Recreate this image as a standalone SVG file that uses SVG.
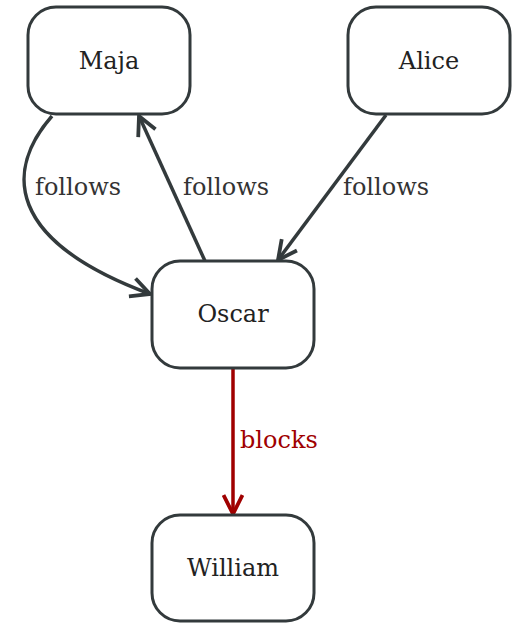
<svg xmlns="http://www.w3.org/2000/svg" width="512" height="624" viewBox="0 0 512 624">
<style>
.node rect{fill:#fff;stroke:#333a3c;stroke-width:3}
.node text{font-family:'DejaVu Serif','Liberation Serif',serif;font-size:24px;fill:#222;text-anchor:middle}
.edge{fill:none;stroke:#333a3c;stroke-width:3.5}
.red{stroke:#a00000}
.lbl{font-family:'DejaVu Serif','Liberation Serif',serif;font-size:24px;fill:#333}
</style>
<defs>
<marker id="ah" viewBox="0 0 12 12" refX="11" refY="6" markerWidth="6.5" markerHeight="6.5" orient="auto" markerUnits="strokeWidth">
<path d="M1,1 L11,6 L1,11" fill="none" stroke="#333a3c" stroke-width="2"/>
</marker>
<marker id="ahr" viewBox="0 0 12 12" refX="11" refY="6" markerWidth="6.5" markerHeight="6.5" orient="auto" markerUnits="strokeWidth">
<path d="M1,1 L11,6 L1,11" fill="none" stroke="#a00000" stroke-width="2"/>
</marker>
</defs>
<g id="connectors">
<path class="edge" d="M52,116 C5,170 5,240 150,294" marker-end="url(#ah)"/>
<path class="edge" d="M205,261 L139,116" marker-end="url(#ah)"/>
<path class="edge" d="M386,115 L278,260" marker-end="url(#ah)"/>
<path class="edge red" d="M233,369 L233,514" marker-end="url(#ahr)"/>
<text class="lbl" x="35" y="195">follows</text>
<text class="lbl" x="183" y="195">follows</text>
<text class="lbl" x="343" y="195">follows</text>
<text class="lbl" x="240" y="448" style="fill:#a00000">blocks</text>
</g>
<g id="maja" class="node"><rect x="28" y="7" width="162" height="107" rx="28"/><text x="109" y="69">Maja</text></g>
<g id="alice" class="node"><rect x="348" y="7" width="162" height="107" rx="28"/><text x="429" y="69">Alice</text></g>
<g id="oscar" class="node"><rect x="152" y="261" width="162" height="107" rx="28"/><text x="233" y="322">Oscar</text></g>
<g id="william" class="node"><rect x="152" y="515" width="162" height="106" rx="28"/><text x="233" y="576">William</text></g>
</svg>
